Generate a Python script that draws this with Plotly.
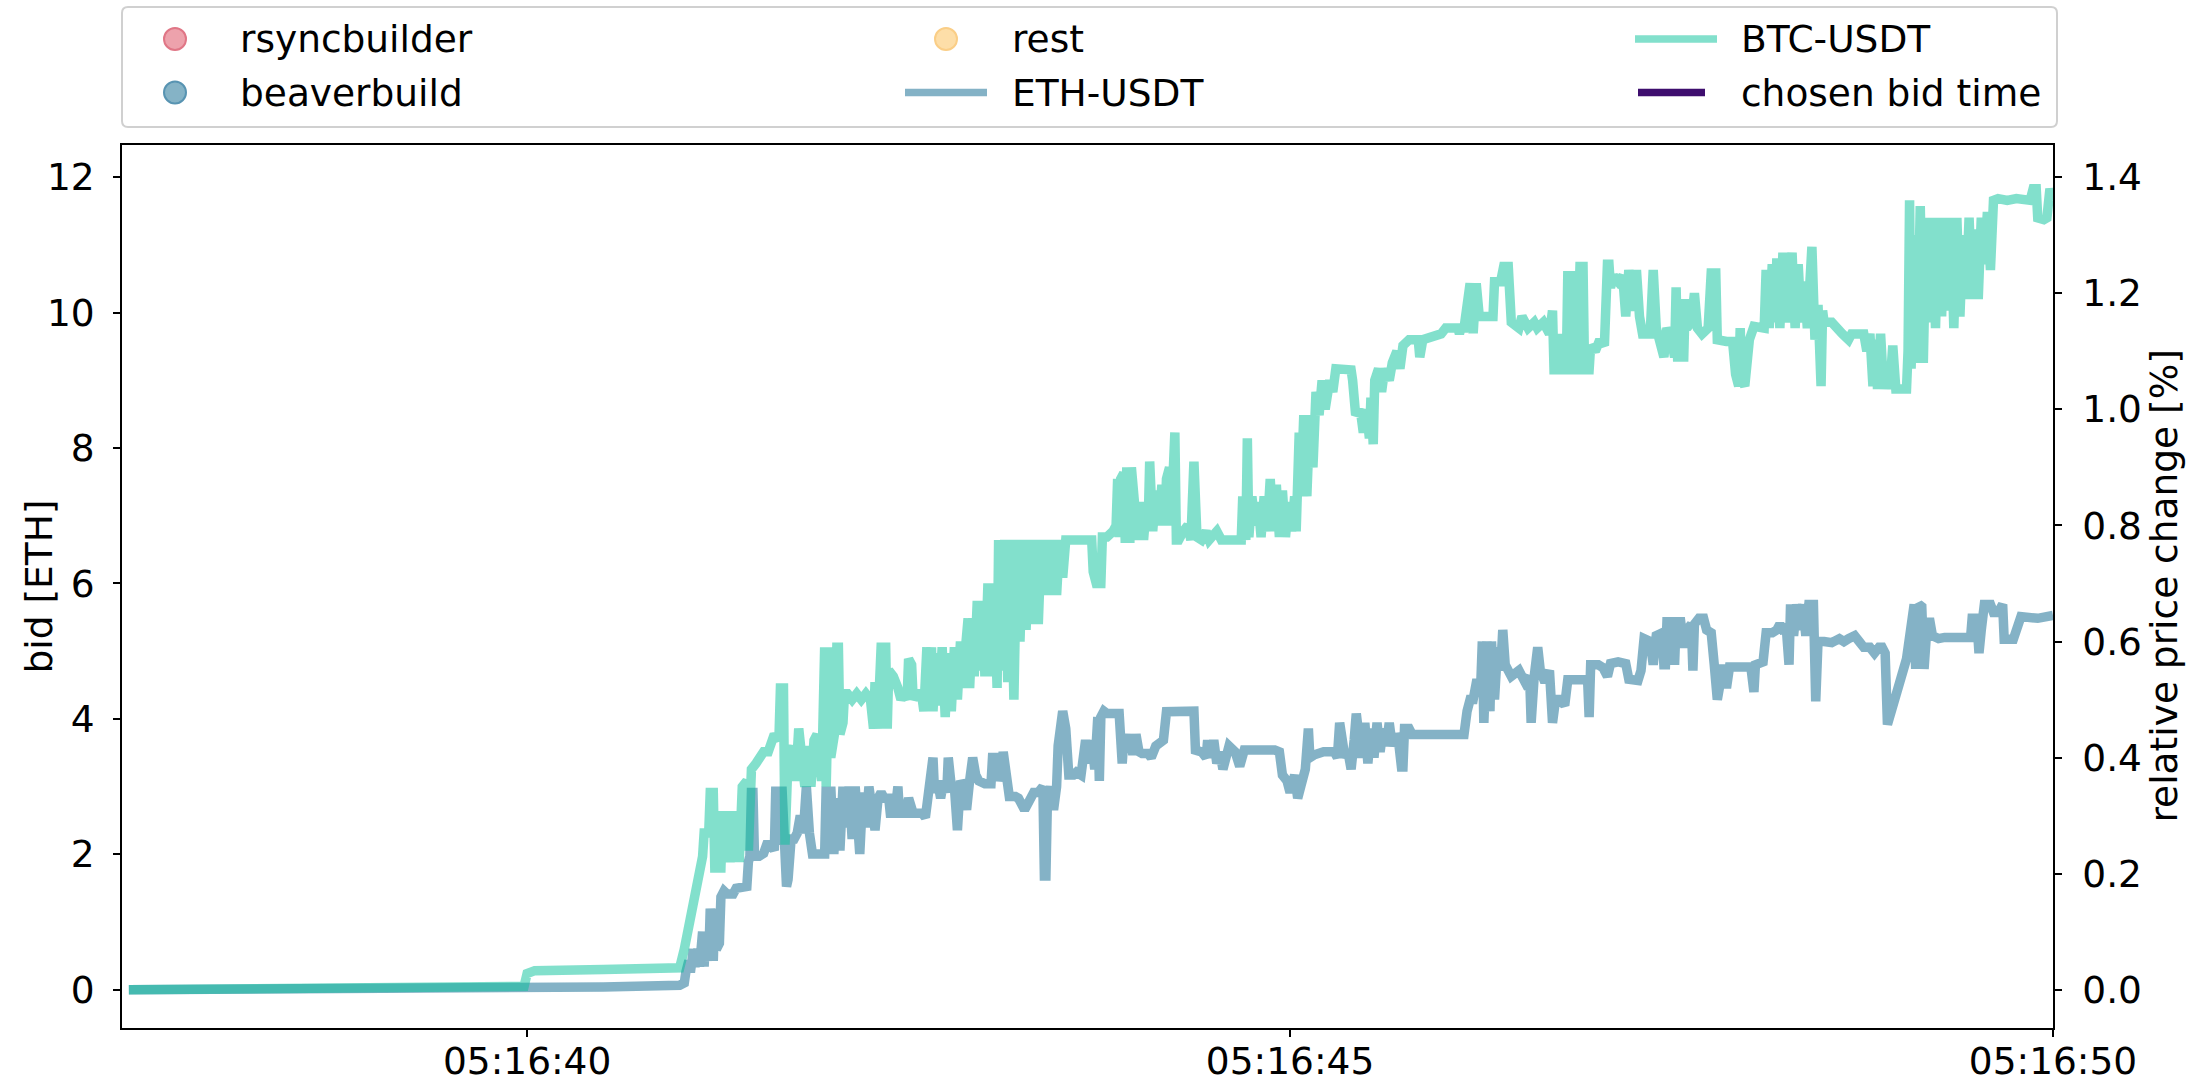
import pandas as pd
import plotly.graph_objects as go

# ---------------- data ----------------
BASE_TIME = "2023-06-01 05:16:40"
X_START_OFFSET = -2.655   # seconds relative to 05:16:40 (axis start)
X_END_OFFSET = 10.0

# BTC-USDT relative price change [%]; time offsets in seconds after 05:16:40
btc_t = [-2.61, -0.60, -0.55, -0.02, 0.00, 0.05, 0.50, 1.00,
         1.03, 1.05, 1.07, 1.09, 1.11, 1.13, 1.15, 1.16, 1.19, 1.20, 1.22, 1.23,
         1.27, 1.28, 1.32, 1.33, 1.35, 1.38, 1.39, 1.41, 1.44, 1.45, 1.47, 1.50,
         1.52, 1.55, 1.58, 1.60, 1.62, 1.65, 1.66, 1.68, 1.69, 1.71, 1.74, 1.76,
         1.78, 1.80, 1.82, 1.84, 1.86, 1.88, 1.90, 1.93, 1.94, 1.95, 1.96, 1.98,
         1.99, 2.02, 2.03, 2.04, 2.05, 2.07, 2.08, 2.10, 2.13, 2.16, 2.19, 2.22,
         2.25, 2.27, 2.28, 2.30, 2.31, 2.32, 2.35, 2.36, 2.37, 2.40, 2.43, 2.45,
         2.47, 2.49, 2.50, 2.52, 2.53, 2.55, 2.57, 2.59, 2.60, 2.61, 2.62, 2.63,
         2.65, 2.66, 2.68, 2.70, 2.72, 2.74, 2.76, 2.78, 2.80, 2.82, 2.84, 2.85,
         2.87, 2.89, 2.90, 2.92, 2.93, 2.95, 2.97, 2.99, 3.00, 3.02, 3.04, 3.06,
         3.08, 3.09, 3.11, 3.13, 3.15, 3.17, 3.19, 3.21, 3.23, 3.25, 3.27, 3.29,
         3.31, 3.33, 3.35, 3.37, 3.39, 3.41, 3.43, 3.45, 3.47, 3.49, 3.51, 3.53,
         3.70, 3.71, 3.73, 3.76, 3.77, 3.80, 3.84, 3.86, 3.87, 3.88, 3.89, 3.91,
         3.92, 3.93, 3.95, 3.96, 3.98, 4.00, 4.02, 4.04, 4.06, 4.07, 4.08, 4.10,
         4.12, 4.14, 4.16, 4.18, 4.19, 4.21, 4.22, 4.24, 4.245, 4.255, 4.27, 4.30,
         4.33, 4.35, 4.37, 4.39, 4.42, 4.45, 4.47, 4.52, 4.55, 4.66, 4.68, 4.69,
         4.71, 4.72, 4.73, 4.75, 4.77, 4.79, 4.81, 4.83, 4.85, 4.87, 4.89, 4.91,
         4.93, 4.95, 4.97, 4.99, 5.01, 5.03, 5.04, 5.06, 5.07, 5.09, 5.11, 5.13,
         5.15, 5.17, 5.19, 5.21, 5.23, 5.26, 5.28, 5.30, 5.40, 5.41, 5.43, 5.46,
         5.48, 5.50, 5.52, 5.53, 5.545, 5.555, 5.58, 5.60, 5.62, 5.65, 5.67, 5.70,
         5.72, 5.74, 5.78, 5.84, 5.85, 5.87, 5.92, 5.99, 6.02, 6.10, 6.11, 6.12,
         6.14, 6.16, 6.18, 6.20, 6.22, 6.24, 6.27, 6.30, 6.33, 6.34, 6.38, 6.40,
         6.43, 6.45, 6.50, 6.52, 6.56, 6.60, 6.62, 6.66, 6.70, 6.72, 6.73, 6.76,
         6.77, 6.79, 6.81, 6.82, 6.84, 6.85, 6.88, 6.90, 6.92, 6.93, 6.96, 6.97,
         7.00, 7.03, 7.06, 7.08, 7.09, 7.10, 7.12, 7.15, 7.18, 7.20, 7.22, 7.25,
         7.27, 7.29, 7.31, 7.36, 7.38, 7.40, 7.42, 7.45, 7.47, 7.50, 7.52, 7.53,
         7.54, 7.58, 7.59, 7.60, 7.63, 7.65, 7.67, 7.70, 7.74, 7.76, 7.79, 7.80,
         7.86, 7.90, 7.92, 7.94, 7.95, 7.96, 7.98, 8.00, 8.01, 8.04, 8.08, 8.10,
         8.107, 8.12, 8.14, 8.16, 8.18, 8.19, 8.21, 8.23, 8.25, 8.27, 8.29, 8.31,
         8.33, 8.35, 8.37, 8.39, 8.41, 8.42, 8.44, 8.46, 8.48, 8.49, 8.50, 8.55,
         8.58, 8.62, 8.66, 8.68, 8.76, 8.78, 8.80, 8.82, 8.84, 8.85, 8.87, 8.89,
         8.91, 8.93, 8.95, 8.97, 9.04, 9.05, 9.06, 9.07, 9.09, 9.11, 9.13, 9.15,
         9.17, 9.19, 9.21, 9.23, 9.25, 9.27, 9.29, 9.31, 9.33, 9.35, 9.37, 9.39,
         9.41, 9.43, 9.45, 9.47, 9.49, 9.51, 9.53, 9.55, 9.57, 9.59, 9.61, 9.64,
         9.70, 9.76, 9.85, 9.87, 9.89, 9.90, 9.94, 9.96, 9.98, 10.00]
btc_v = [0.000, 0.002, 0.005, 0.006, 0.028, 0.033, 0.035, 0.038,
         0.07, 0.10, 0.13, 0.16, 0.18, 0.20, 0.23, 0.27, 0.27, 0.34, 0.34, 0.21,
         0.21, 0.30, 0.30, 0.22, 0.30, 0.30, 0.22, 0.35, 0.36, 0.24, 0.38, 0.39,
         0.40, 0.41, 0.41, 0.43, 0.44, 0.43, 0.52, 0.52, 0.25, 0.40, 0.42, 0.36,
         0.45, 0.40, 0.35, 0.42, 0.35, 0.43, 0.44, 0.36, 0.59, 0.59, 0.35, 0.59,
         0.40, 0.45, 0.59, 0.59, 0.44, 0.46, 0.51, 0.51, 0.50, 0.51, 0.50, 0.51,
         0.50, 0.45, 0.53, 0.45, 0.53, 0.59, 0.59, 0.45, 0.55, 0.54, 0.52, 0.50,
         0.51, 0.50, 0.57, 0.56, 0.50, 0.51, 0.51, 0.50, 0.48, 0.55, 0.59, 0.49,
         0.59, 0.48, 0.58, 0.49, 0.59, 0.47, 0.58, 0.48, 0.59, 0.50, 0.60, 0.52,
         0.60, 0.64, 0.52, 0.64, 0.54, 0.67, 0.55, 0.67, 0.54, 0.70, 0.54, 0.70,
         0.52, 0.775, 0.55, 0.775, 0.53, 0.775, 0.50, 0.775, 0.60, 0.775, 0.62, 0.775,
         0.63, 0.775, 0.63, 0.775, 0.68, 0.775, 0.68, 0.775, 0.68, 0.775, 0.71, 0.775,
         0.775, 0.72, 0.70, 0.70, 0.78, 0.78, 0.79, 0.80, 0.88, 0.78, 0.88, 0.89,
         0.77, 0.90, 0.77, 0.90, 0.84, 0.775, 0.84, 0.775, 0.84, 0.80, 0.91, 0.79,
         0.86, 0.80, 0.87, 0.80, 0.88, 0.90, 0.80, 0.90, 0.96, 0.775, 0.775, 0.79,
         0.80, 0.775, 0.91, 0.78, 0.775, 0.79, 0.775, 0.79, 0.775, 0.775, 0.775, 0.85,
         0.775, 0.95, 0.78, 0.85, 0.80, 0.84, 0.78, 0.85, 0.79, 0.88, 0.79, 0.87,
         0.78, 0.86, 0.78, 0.84, 0.79, 0.85, 0.79, 0.96, 0.85, 0.99, 0.85, 0.99,
         0.90, 1.03, 0.99, 1.05, 1.00, 1.05, 1.03, 1.07, 1.068, 1.05, 0.99, 1.00,
         0.96, 1.00, 0.95, 1.02, 0.94, 1.05, 1.07, 1.03, 1.07, 1.05, 1.08, 1.10,
         1.07, 1.11, 1.12, 1.12, 1.09, 1.12, 1.125, 1.13, 1.14, 1.14, 1.13, 1.14,
         1.14, 1.18, 1.217, 1.131, 1.217, 1.16, 1.16, 1.16, 1.16, 1.22, 1.22, 1.246,
         1.246, 1.15, 1.14, 1.16, 1.14, 1.15, 1.14, 1.15, 1.13, 1.17, 1.068, 1.068,
         1.13, 1.068, 1.068, 1.23, 1.23, 1.068, 1.068, 1.246, 1.246, 1.068, 1.068, 1.11,
         1.10, 1.12, 1.11, 1.25, 1.25, 1.21, 1.23, 1.22, 1.23, 1.16, 1.24, 1.17,
         1.24, 1.16, 1.13, 1.13, 1.24, 1.14, 1.12, 1.09, 1.14, 1.12, 1.09, 1.21,
         1.09, 1.09, 1.19, 1.14, 1.15, 1.20, 1.14, 1.13, 1.14, 1.235, 1.235, 1.12,
         1.117, 1.117, 1.06, 1.04, 1.14, 1.05, 1.04, 1.08, 1.12, 1.143, 1.14, 1.14,
         1.14, 1.24, 1.14, 1.25, 1.15, 1.26, 1.14, 1.27, 1.15, 1.20, 1.27, 1.14,
         1.25, 1.15, 1.22, 1.14, 1.26, 1.28, 1.12, 1.18, 1.04, 1.17, 1.15, 1.15,
         1.14, 1.13, 1.12, 1.13, 1.13, 1.10, 1.13, 1.04, 1.12, 1.035, 1.13, 1.035,
         1.08, 1.035, 1.11, 1.035, 1.035, 1.10, 1.36, 1.07, 1.30, 1.08, 1.35, 1.08,
         1.33, 1.15, 1.33, 1.14, 1.33, 1.16, 1.33, 1.17, 1.33, 1.14, 1.33, 1.16,
         1.30, 1.19, 1.33, 1.19, 1.31, 1.19, 1.33, 1.25, 1.34, 1.24, 1.36, 1.363,
         1.36, 1.363, 1.36, 1.38, 1.38, 1.33, 1.327, 1.33, 1.38, 1.36]

# ETH-USDT relative price change [%]
eth_t = [-2.61, 0.00, 0.50, 1.00, 1.03,
         1.04, 1.06, 1.07, 1.09, 1.10, 1.12, 1.13, 1.15, 1.16, 1.17, 1.19, 1.20,
         1.22, 1.23, 1.24, 1.26, 1.27, 1.29, 1.31, 1.35, 1.37, 1.44, 1.45, 1.46,
         1.47, 1.48, 1.49, 1.52, 1.55, 1.57, 1.60, 1.62, 1.63, 1.65, 1.67, 1.69,
         1.70, 1.71, 1.73, 1.75, 1.77, 1.79, 1.81, 1.83, 1.85, 1.87, 1.90, 1.93,
         1.95, 1.96, 1.98, 1.99, 2.01, 2.03, 2.05, 2.07, 2.09, 2.11, 2.13, 2.15,
         2.17, 2.18, 2.20, 2.22, 2.24, 2.26, 2.28, 2.30, 2.32, 2.34, 2.37, 2.38,
         2.41, 2.43, 2.44, 2.48, 2.50, 2.53, 2.59, 2.61, 2.63, 2.65, 2.66, 2.67,
         2.69, 2.71, 2.73, 2.75, 2.76, 2.78, 2.80, 2.82, 2.84, 2.86, 2.88, 2.90,
         2.92, 2.94, 2.96, 3.00, 3.04, 3.05, 3.08, 3.09, 3.11, 3.12, 3.14, 3.16,
         3.20, 3.22, 3.26, 3.29, 3.32, 3.35, 3.38, 3.39, 3.40, 3.41, 3.43, 3.45,
         3.47, 3.48, 3.50, 3.51, 3.53, 3.55, 3.58, 3.60, 3.63, 3.64, 3.66, 3.68,
         3.70, 3.72, 3.74, 3.75, 3.76, 3.78, 3.80, 3.85, 3.88, 3.90, 3.91, 3.93,
         3.95, 3.97, 3.99, 4.01, 4.03, 4.07, 4.09, 4.12, 4.14, 4.17, 4.19, 4.22,
         4.34, 4.37, 4.38, 4.42, 4.45, 4.46, 4.48, 4.50, 4.52, 4.54, 4.56, 4.58,
         4.60, 4.64, 4.67, 4.70, 4.80, 4.90, 4.93, 4.95, 4.98, 5.00, 5.03, 5.05,
         5.07, 5.10, 5.12, 5.13, 5.16, 5.22, 5.29, 5.31, 5.325, 5.34, 5.36, 5.38,
         5.40, 5.42, 5.434, 5.45, 5.47, 5.49, 5.51, 5.53, 5.55, 5.57, 5.59, 5.61,
         5.63, 5.65, 5.67, 5.69, 5.71, 5.73, 5.74, 5.75, 5.78, 5.80, 5.82, 5.90,
         5.95, 6.00, 6.05, 6.14, 6.16, 6.18, 6.20, 6.22, 6.25, 6.26, 6.27, 6.29,
         6.31, 6.32, 6.34, 6.36, 6.38, 6.394, 6.41, 6.45, 6.50, 6.54, 6.57, 6.58,
         6.60, 6.623, 6.64, 6.67, 6.70, 6.72, 6.74, 6.77, 6.80, 6.82, 6.90, 6.95,
         6.96, 6.97, 7.02, 7.05, 7.08, 7.10, 7.15, 7.20, 7.22, 7.28, 7.30, 7.32,
         7.36, 7.38, 7.40, 7.42, 7.44, 7.45, 7.46, 7.47, 7.51, 7.52, 7.53, 7.56,
         7.58, 7.60, 7.63, 7.64, 7.65, 7.68, 7.71, 7.73, 7.76, 7.78, 7.80, 7.82,
         7.84, 7.86, 7.88, 7.95, 8.02, 8.04, 8.05, 8.10, 8.12, 8.16, 8.19, 8.21,
         8.24, 8.25, 8.26, 8.27, 8.28, 8.30, 8.32, 8.34, 8.36, 8.38, 8.40, 8.43,
         8.445, 8.46, 8.50, 8.55, 8.60, 8.63, 8.66, 8.70, 8.73, 8.76, 8.80, 8.83,
         8.86, 8.88, 8.90, 8.915, 9.04, 9.06, 9.09, 9.10, 9.12, 9.14, 9.155, 9.17,
         9.19, 9.21, 9.25, 9.29, 9.35, 9.40, 9.46, 9.47, 9.50, 9.515, 9.53, 9.55,
         9.59, 9.61, 9.64, 9.66, 9.67, 9.68, 9.74, 9.79, 9.90, 10.00]
eth_v = [0.000, 0.002, 0.005, 0.008, 0.012,
         0.03, 0.05, 0.03, 0.07, 0.04, 0.07, 0.04, 0.10, 0.04, 0.10, 0.05, 0.14,
         0.05, 0.14, 0.07, 0.08, 0.16, 0.17, 0.165, 0.165, 0.175, 0.178, 0.22, 0.23,
         0.34, 0.34, 0.23, 0.23, 0.235, 0.25, 0.25, 0.24, 0.35, 0.25, 0.35, 0.26,
         0.178, 0.19, 0.26, 0.26, 0.27, 0.30, 0.27, 0.35, 0.27, 0.234, 0.234, 0.234,
         0.234, 0.35, 0.25, 0.35, 0.234, 0.33, 0.24, 0.35, 0.28, 0.35, 0.26, 0.35,
         0.24, 0.234, 0.34, 0.28, 0.35, 0.30, 0.275, 0.33, 0.34, 0.33, 0.33, 0.304,
         0.304, 0.35, 0.304, 0.304, 0.33, 0.304, 0.304, 0.297, 0.33, 0.36, 0.40, 0.34,
         0.36, 0.33, 0.36, 0.34, 0.40, 0.35, 0.35, 0.275, 0.36, 0.35, 0.31, 0.36,
         0.40, 0.37, 0.36, 0.355, 0.355, 0.40, 0.40, 0.36, 0.38, 0.41, 0.36, 0.333,
         0.333, 0.33, 0.31, 0.33, 0.34, 0.34, 0.35, 0.196, 0.196, 0.33, 0.35, 0.31,
         0.35, 0.42, 0.45, 0.48, 0.45, 0.37, 0.37, 0.375, 0.37, 0.40, 0.43, 0.39,
         0.43, 0.38, 0.47, 0.36, 0.47, 0.48, 0.476, 0.476, 0.476, 0.39, 0.43, 0.41,
         0.44, 0.405, 0.44, 0.41, 0.407, 0.407, 0.40, 0.42, 0.425, 0.43, 0.479, 0.479,
         0.479, 0.48, 0.413, 0.41, 0.40, 0.43, 0.40, 0.43, 0.39, 0.41, 0.38, 0.40,
         0.42, 0.41, 0.385, 0.413, 0.415, 0.413, 0.41, 0.37, 0.36, 0.34, 0.37, 0.33,
         0.35, 0.38, 0.45, 0.40, 0.405, 0.41, 0.41, 0.40, 0.46, 0.42, 0.40, 0.41,
         0.38, 0.43, 0.476, 0.44, 0.40, 0.46, 0.39, 0.45, 0.40, 0.46, 0.41, 0.45,
         0.42, 0.46, 0.42, 0.44, 0.43, 0.384, 0.384, 0.45, 0.45, 0.44, 0.44, 0.44,
         0.437, 0.44, 0.437, 0.44, 0.48, 0.50, 0.50, 0.528, 0.528, 0.60, 0.46, 0.60,
         0.48, 0.60, 0.50, 0.59, 0.55, 0.62, 0.56, 0.54, 0.55, 0.53, 0.54, 0.46,
         0.54, 0.59, 0.55, 0.53, 0.55, 0.46, 0.50, 0.50, 0.49, 0.534, 0.534, 0.534,
         0.47, 0.56, 0.56, 0.555, 0.54, 0.562, 0.565, 0.562, 0.535, 0.533, 0.55, 0.605,
         0.60, 0.56, 0.61, 0.615, 0.615, 0.56, 0.56, 0.634, 0.634, 0.56, 0.634, 0.634,
         0.59, 0.62, 0.63, 0.55, 0.63, 0.64, 0.64, 0.62, 0.615, 0.56, 0.50, 0.53,
         0.56, 0.52, 0.556, 0.556, 0.556, 0.513, 0.56, 0.565, 0.615, 0.615, 0.62, 0.63,
         0.615, 0.631, 0.56, 0.56, 0.664, 0.61, 0.664, 0.62, 0.664, 0.61, 0.664, 0.664,
         0.497, 0.60, 0.60, 0.598, 0.605, 0.60, 0.605, 0.61, 0.60, 0.59, 0.59, 0.58,
         0.59, 0.59, 0.58, 0.457, 0.57, 0.604, 0.664, 0.553, 0.664, 0.66, 0.553, 0.61,
         0.64, 0.61, 0.605, 0.607, 0.605, 0.607, 0.607, 0.64, 0.64, 0.58, 0.62, 0.664,
         0.664, 0.65, 0.65, 0.664, 0.664, 0.604, 0.604, 0.643, 0.640, 0.645]

# builder bids [ETH] -- none fall inside the shown time window
bid_builders = ["rsyncbuilder", "beaverbuild", "rest"]
bid_t = {"rsyncbuilder": [], "beaverbuild": [], "rest": []}
bid_v = {"rsyncbuilder": [], "beaverbuild": [], "rest": []}

left_ticks = [0, 2, 4, 6, 8, 10, 12]
right_ticks = [0.0, 0.2, 0.4, 0.6, 0.8, 1.0, 1.2, 1.4]
right_tick_labels = ["0.0", "0.2", "0.4", "0.6", "0.8", "1.0", "1.2", "1.4"]
x_tick_offsets = [0, 5, 10]
x_tick_labels = ["05:16:40", "05:16:45", "05:16:50"]

legend_names = ["rsyncbuilder", "beaverbuild", "rest", "ETH-USDT", "BTC-USDT",
                "chosen bid time"]
left_title = "bid [ETH]"
right_title = "relative price change [%]"

left_range = [-0.564, 12.475]
right_range = [-0.0658, 1.4554]

# ---------------- build ----------------
W, H = 2209, 1084
ML, MR, MT, MB = 122, 156, 145, 56
PW, PH = W - ML - MR, H - MT - MB

base = pd.Timestamp(BASE_TIME)
to_time = lambda secs: [base + pd.to_timedelta(s, unit="s") for s in secs]
px_x = lambda X: (X - ML) / PW          # page pixel -> paper x
px_y = lambda Y: (H - MB - Y) / PH      # page pixel -> paper y

FONT = "DejaVu Sans"
FS = 37.5
BTC_COLOR = "rgba(5,193,153,0.5)"
ETH_COLOR = "rgba(9,101,141,0.5)"
CHOSEN_COLOR = "rgb(62,14,110)"
BID_COLORS = {"rsyncbuilder": "rgba(214,60,85,0.5)",
              "beaverbuild": "rgba(20,105,145,0.5)",
              "rest": "rgba(250,190,80,0.5)"}

fig = go.Figure()
for b in bid_builders:
    fig.add_trace(go.Scatter(x=to_time(bid_t[b]) or [None], y=bid_v[b] or [None],
                             mode="markers", name=b, yaxis="y", showlegend=False,
                             marker=dict(size=16, color=BID_COLORS[b])))
fig.add_trace(go.Scatter(x=to_time(eth_t), y=eth_v, mode="lines", name="ETH-USDT",
                         line=dict(color=ETH_COLOR, width=9.5), yaxis="y2",
                         showlegend=False))
fig.add_trace(go.Scatter(x=to_time(btc_t), y=btc_v, mode="lines", name="BTC-USDT",
                         line=dict(color=BTC_COLOR, width=9.5), yaxis="y2",
                         showlegend=False))

# ---- legend (matplotlib-style box, 3 columns) ----
shapes = []
annotations = []
bx0, bx1, by0, by1, r = px_x(122), px_x(2057), px_y(7), px_y(127), 6
rx, ry = r / PW, r / PH
box_path = (f"M{bx0+rx},{by0} L{bx1-rx},{by0} Q{bx1},{by0} {bx1},{by0-ry} "
            f"L{bx1},{by1+ry} Q{bx1},{by1} {bx1-rx},{by1} L{bx0+rx},{by1} "
            f"Q{bx0},{by1} {bx0},{by1+ry} L{bx0},{by0-ry} Q{bx0},{by0} {bx0+rx},{by0} Z")
shapes.append(dict(type="path", xref="paper", yref="paper", path=box_path,
                   line=dict(color="#d0d0d0", width=2), fillcolor="white",
                   layer="above"))

row_y = [39, 92.5]
marker_items = [  # (name index, x center, row, fill, edge)
    (0, 175, 0, "rgb(237,162,172)", "rgb(224,118,134)"),
    (1, 175, 1, "rgb(133,179,198)", "rgb(88,148,178)"),
    (2, 946, 0, "rgb(253,222,168)", "rgb(250,206,135)"),
]
for idx, cx, row, fill, edge in marker_items:
    shapes.append(dict(type="circle", xref="paper", yref="paper",
                       xsizemode="pixel", ysizemode="pixel",
                       xanchor=px_x(cx), yanchor=px_y(row_y[row]),
                       x0=-11, x1=11, y0=-11, y1=11,
                       fillcolor=fill, line=dict(color=edge, width=2), layer="above"))
line_items = [  # (name index, x0, x1, row, colour)
    (3, 905, 987, 1, ETH_COLOR),
    (4, 1635, 1717, 0, BTC_COLOR),
    (5, 1638, 1705, 1, CHOSEN_COLOR),
]
for idx, x0, x1, row, col in line_items:
    shapes.append(dict(type="line", xref="paper", yref="paper",
                       x0=px_x(x0), x1=px_x(x1), y0=px_y(row_y[row]),
                       y1=px_y(row_y[row]), line=dict(color=col, width=7.3),
                       layer="above"))
text_items = [(0, 238, 0), (1, 238, 1), (2, 1010, 0), (3, 1010, 1),
              (4, 1739, 0), (5, 1739, 1)]
for idx, tx, row in text_items:
    annotations.append(dict(text=legend_names[idx], xref="paper", yref="paper",
                            x=px_x(tx), y=px_y(row_y[row]), xanchor="left",
                            yanchor="middle", showarrow=False,
                            font=dict(family=FONT, size=FS, color="black")))

# axis titles (placed like matplotlib's)
annotations.append(dict(text=left_title, xref="paper", yref="paper", x=px_x(38),
                        y=0.5, xanchor="center", yanchor="middle", textangle=-90,
                        showarrow=False, font=dict(family=FONT, size=FS, color="black")))
annotations.append(dict(text=right_title, xref="paper", yref="paper", x=px_x(2163),
                        y=0.5, xanchor="center", yanchor="middle", textangle=-90,
                        showarrow=False, font=dict(family=FONT, size=FS, color="black")))

axis_common = dict(showline=True, linecolor="black", linewidth=1.7, ticks="outside",
                   ticklen=7, tickwidth=1.7, tickcolor="black", showgrid=False,
                   zeroline=False, tickfont=dict(family=FONT, size=FS, color="black"))

fig.update_layout(
    width=W, height=H,
    margin=dict(l=ML, r=MR, t=MT, b=MB, autoexpand=False),
    paper_bgcolor="white", plot_bgcolor="white",
    font=dict(family=FONT, size=FS, color="black"),
    showlegend=False,
    shapes=shapes, annotations=annotations,
    xaxis=dict(type="date", range=to_time([X_START_OFFSET, X_END_OFFSET]),
               tickvals=to_time(x_tick_offsets), ticktext=x_tick_labels,
               mirror=True, ticklabelstandoff=-8, **axis_common),
    yaxis=dict(range=left_range, tickvals=left_ticks, ticklabelstandoff=11,
               **axis_common),
    yaxis2=dict(range=right_range, tickvals=right_ticks, ticktext=right_tick_labels,
                overlaying="y", side="right", ticklabelstandoff=13,
                **axis_common),
)

# remove the browser's default 8px body margin so the figure fills the window
fig.write_html("out.html", config={"displayModeBar": False},
               post_script="document.body.style.margin='0px';")
